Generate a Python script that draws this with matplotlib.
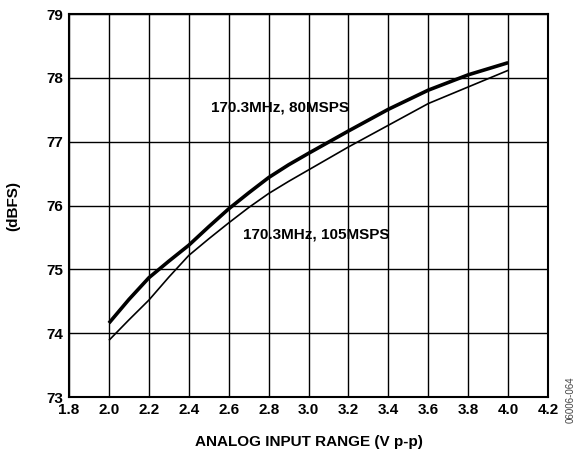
import numpy as np
import matplotlib
matplotlib.use("Agg")
import matplotlib.pyplot as plt

plt.rcParams['font.family'] = ['Liberation Sans', 'DejaVu Sans']
plt.rcParams['font.weight'] = 'bold'

# analog input range (V p-p)
x_vals = [2.0, 2.1, 2.2, 2.3, 2.4, 2.5, 2.6, 2.7, 2.8, 2.9, 3.0,
          3.2, 3.4, 3.6, 3.8, 4.0]
# SNR (dBFS)
snr_80msps = [74.16, 74.53, 74.87, 75.13, 75.38, 75.67, 75.95, 76.20, 76.44, 76.64, 76.82,
              77.17, 77.51, 77.81, 78.05, 78.24]
snr_105msps = [73.89, 74.21, 74.52, 74.88, 75.22, 75.48, 75.73, 75.97, 76.19, 76.38, 76.56,
               76.92, 77.26, 77.60, 77.86, 78.12]

fig = plt.figure(figsize=(5.8, 4.57), dpi=100)
ax = fig.add_axes([0.119, 0.131, 0.826, 0.838])

ax.plot(x_vals, snr_80msps, color='k', lw=2.6, solid_capstyle='butt',
        solid_joinstyle='round')
ax.plot(x_vals, snr_105msps, color='k', lw=1.2, solid_capstyle='butt',
        solid_joinstyle='round')

ax.set_xlim(1.8, 4.2)
ax.set_ylim(73, 79)
ax.set_xticks(np.arange(1.8, 4.21, 0.2))
ax.set_xticklabels([f"{v:.1f}" for v in np.arange(1.8, 4.21, 0.2)])
ax.set_yticks(range(73, 80))
ax.grid(True, color='k', lw=1.0)
ax.set_axisbelow(True)
ax.tick_params(length=0, labelsize=11, pad=4)
for s in ax.spines.values():
    s.set_linewidth(1.5)

ax.text(2.857, 77.53, "170.3MHz, 80MSPS", fontsize=11, fontweight='bold',
        ha='center', va='center')
ax.text(3.04, 75.55, "170.3MHz, 105MSPS", fontsize=11, fontweight='bold',
        ha='center', va='center')

ax.set_xlabel("ANALOG INPUT RANGE (V p-p)", fontsize=11, fontweight='bold', labelpad=13)
fig.text(0.022, 0.55, "(dBFS)", rotation=90, fontsize=11, fontweight='bold',
         ha='center', va='center')
fig.text(0.983, 0.125, "06006-064", rotation=90, fontsize=7, fontweight='normal',
         color='#444444', ha='center', va='center')

fig.savefig("out.png", dpi=100)
